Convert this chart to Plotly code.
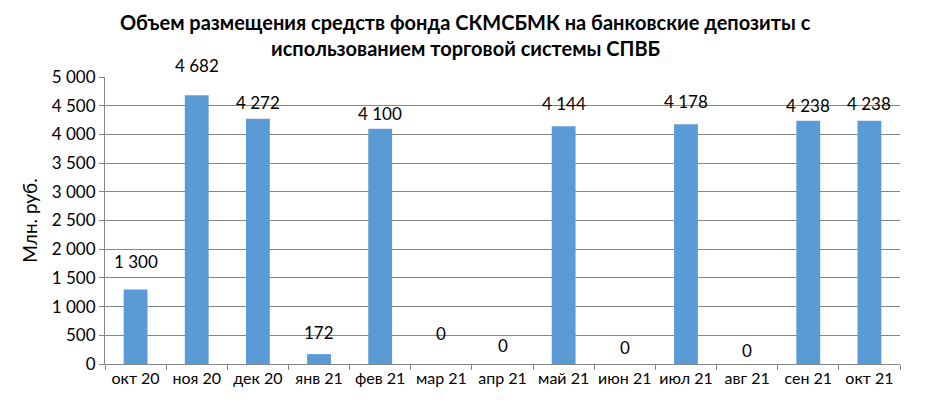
import plotly.graph_objects as go

categories = ["окт 20", "ноя 20", "дек 20", "янв 21", "фев 21", "мар 21", "апр 21",
              "май 21", "июн 21", "июл 21", "авг 21", "сен 21", "окт 21"]
values = [1300, 4682, 4272, 172, 4100, 0, 0, 4144, 0, 4178, 0, 4238, 4238]
y_ticks = [0, 500, 1000, 1500, 2000, 2500, 3000, 3500, 4000, 4500, 5000]
y_tick_labels = ["0", "500", "1 000", "1 500", "2 000", "2 500", "3 000", "3 500",
                 "4 000", "4 500", "5 000"]
title_lines = ["Объем размещения средств фонда СКМСБМК на банковские депозиты с",
               "использованием торговой системы СПВБ"]

# style: vertical pixel offset of each data label above its bar
label_shift = [28, 30, 16, 22, 15, 31, 19, 23, 17, 23, 14, 15, 17]

def fmt(v):
    return f"{v:,}".replace(",", " ")

FONT = "Lato"

fig = go.Figure()
fig.add_trace(go.Bar(
    x=categories, y=values, marker_color="#5B9BD5", width=0.39,
    marker_line_width=0,
))

for c, v, s in zip(categories, values, label_shift):
    fig.add_annotation(x=c, y=v, text=fmt(v), showarrow=False, yshift=s,
                       font=dict(family=FONT, size=17, color="#000000"))

for line, ypos in zip(title_lines, [1 + 55 / 287, 1 + 29 / 287]):
    fig.add_annotation(
        xref="paper", yref="paper", x=0.453, y=ypos, xanchor="center", yanchor="middle",
        showarrow=False, text=f"<b>{line}</b>",
        font=dict(family=FONT, size=20, color="#000000"),
    )

fig.update_layout(
    width=922, height=398,
    margin=dict(l=97, r=30, t=69, b=42, autoexpand=False),
    paper_bgcolor="white", plot_bgcolor="white",
    showlegend=False,
    xaxis=dict(showline=True, linecolor="#868686", linewidth=1,
               ticks="outside", tickson="boundaries", ticklen=5, tickcolor="#868686",
               tickangle=0, automargin=False,
               tickfont=dict(family=FONT, size=16, color="#000000"),
               showgrid=False),
    yaxis=dict(range=[0, 5000], tickvals=y_ticks, ticktext=y_tick_labels,
               showline=True, linecolor="#868686", linewidth=1,
               ticks="outside", ticklen=5, tickcolor="#868686",
               showgrid=True, gridcolor="#868686", gridwidth=1,
               automargin=False,
               tickfont=dict(family=FONT, size=17, color="#000000"),
               title=dict(text="Млн. руб.", standoff=9,
                          font=dict(family=FONT, size=19, color="#000000")),
               zeroline=False),
)

fig.write_html("out.html")
